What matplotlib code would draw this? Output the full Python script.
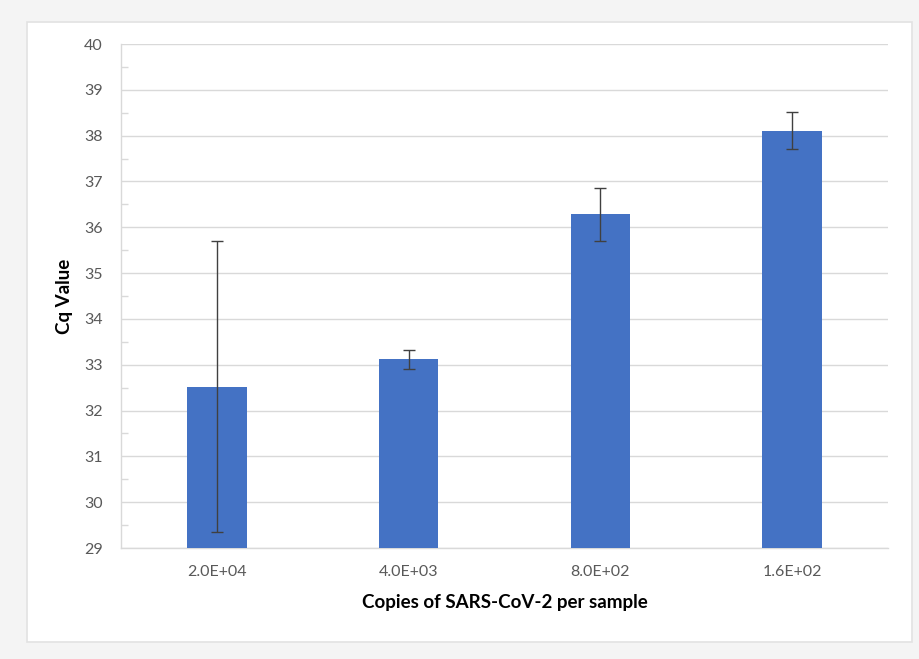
import matplotlib
matplotlib.use("Agg")
import matplotlib.pyplot as plt
from matplotlib.patches import Rectangle
from matplotlib.ticker import MultipleLocator
import numpy as np

# values
copies = ["2.0E+04", "4.0E+03", "8.0E+02", "1.6E+02"]
cq_mean = [32.52, 33.12, 36.28, 38.11]
cq_err = [3.17, 0.21, 0.58, 0.40]

BLUE = "#4472C4"
GRID = "#d9d9d9"
TEXT = "#595959"

plt.rcParams['font.family'] = ['Lato', 'DejaVu Sans']

fig = plt.figure(figsize=(9.2, 6.59), dpi=100)
fig.patch.set_facecolor("#f4f4f4")

# white chart panel with light border, kept behind the axes
fig.patches.append(Rectangle((27 / 920, 1 - 642 / 659), (912 - 27) / 920, (642 - 22) / 659,
                             transform=fig.transFigure, facecolor="white",
                             edgecolor="#e2e2e2", linewidth=1.2, zorder=-5))

ax = fig.add_axes([121 / 920, 111 / 659, (888 - 121) / 920, (548 - 44) / 659])
ax.set_facecolor("none")

x = np.arange(len(copies))
ax.bar(x, cq_mean, width=0.31, color=BLUE, zorder=3)
ax.errorbar(x, cq_mean, yerr=cq_err, fmt="none", ecolor="#404040",
            elinewidth=1, capsize=4, capthick=1, zorder=4)

ax.set_ylim(29, 40)
ax.set_xlim(-0.5, len(copies) - 0.5)
ax.yaxis.set_major_locator(MultipleLocator(1))
ax.yaxis.set_minor_locator(MultipleLocator(0.5))
ax.grid(axis="y", which="major", color=GRID, linewidth=1, zorder=0)

ax.set_xticks(x)
ax.set_xticklabels(copies)
ax.tick_params(axis="x", length=0, pad=12, labelsize=11.5, labelcolor=TEXT)
ax.tick_params(axis="y", which="major", length=0, pad=13, labelsize=11.5, labelcolor=TEXT)
ax.tick_params(axis="y", which="minor", direction="in", length=5, color=GRID, width=1)

for side in ["top", "right"]:
    ax.spines[side].set_visible(False)
for side in ["left", "bottom"]:
    ax.spines[side].set_color(GRID)
    ax.spines[side].set_linewidth(1)

ax.set_xlabel("Copies of SARS-CoV-2 per sample", fontsize=13.5, fontweight="bold",
              color="black", labelpad=11)
ax.set_ylabel("Cq Value", fontsize=13.5, fontweight="bold", color="black", labelpad=8)

fig.savefig("out.png", dpi=100, facecolor=fig.get_facecolor())
